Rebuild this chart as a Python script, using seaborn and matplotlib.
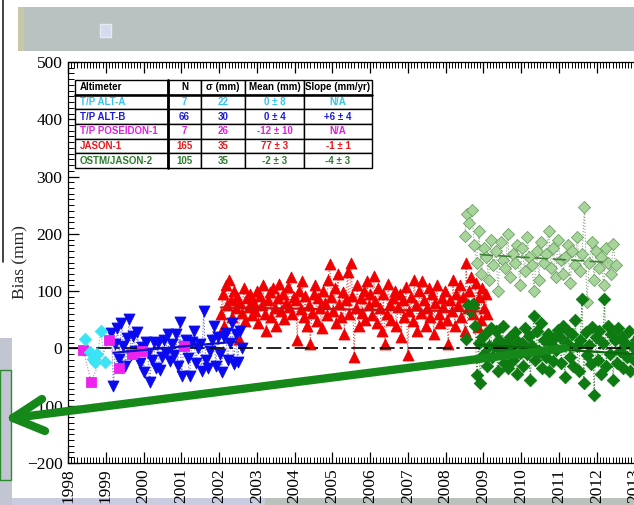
import numpy as np
import pandas as pd
import matplotlib
matplotlib.use("Agg")
import matplotlib.pyplot as plt
import seaborn as sns
from matplotlib.patches import Rectangle
from matplotlib.lines import Line2D
from matplotlib.ticker import MultipleLocator

# ---------------- data ----------------
alta_time = [1998.46, 1998.58, 1998.66, 1998.72, 1998.78, 1998.87, 1998.97]
alta_bias = [17, -6, -18, -24, -10, 30, -24]

pos_time = [1998.41, 1998.61, 1999.09, 1999.34, 1999.69, 1999.95, 2001.08]
pos_bias = [-3, -58, 15, -34, -9, -5, 5]

altb_span = (1999.15, 2002.6)
altb_bias = [27, -66, 8, 35, -18, 45, 4, -30, 18, 51,
             -12, 22, -5, 28, -25, 2, -42, 12, -8, -59,
             -20, 11, -35, 10, -38, -15, 14, -8, 25, -22,
             8, -12, 26, -30, 46, -49, 5, 14, -17, -49,
             12, 30, -25, 0, 8, -40, 65, -20, -35, -5,
             15, 40, -30, 20, -10, -41, 20, 27, -20, 10,
             44, -28, 25, -24, 30, 0]

jason_span = (2002.05, 2009.1)
jason_bias = [60, 95, 40, 110, 75, 119, 85, 55, 100, 70, 90, 17, 80, 62, 105, 48, 88, 72, 95, 58, 82, 66,
              100, 45, 92, 75, 110, 60, 30, 85, 98, 55, 105, 70, 40, 88, 112, 65, 95, 52, 80, 108, 72, 124, 60, 90,
              85, 14, 100, 68, 118, 55, 92, 40, 75, 8, 62, 95, 110, 48, 88, 70, 35, 100, 80, 58, 120, 148, 90,
              65, 105, 45, 130, 78, 55, 98, 25, 85, 133, 60, 149, 92, -15, 70, 110, 40, 88, 62, 100, 50, 118, 75, 95,
              58, 126, 82, 45, 105, 70, 30, 95, 7, 60, 112, 78, 50, 88, 100, 40, 72, 95, 20, 85, 55, 108, -12, 65,
              90, 48, 119, 75, 30, 100, 62, 117, 85, 40, 70, 105, 55, 95, 25, 80, 110, 60, 45, 88, 72, 100, 50, 8,
              85, 65, 120, 40, 95, 75, 110, 55, 90, 30, 149, 70, 100, 125, 60, 80, 115, 37, 90, 50, 105, 70, 95, 60]

ostm_span = (2008.55, 2013.3)
ostm_bias = [17, 75, 66, 70, 78, 40, -47, 10, -61, 20, -10, 25, -30, 5,
             35, -15, 5, 30, -40, 15, -5, 40, -25, 10, -35, 20, 0, -20, 28, -45, 12, -8,
             10, -30, 35, -10, 22, -55, 5, 56, -20, 30, -5, 45, -35, 15, -15, 25, -40, 8, -22, 18, -3, 32,
             20, -25, 40, -50, 10, 30, -15, 25, -30, 50, 5, -40, 15, 87, -60, 28, -12, 6, -28, 38, -82,
             20, -20, 30, -45, 10, 86, -30, 40, -10, 25, -55, 15, -25, 35, -5, 20, -35, 10, -15, 30,
             -40, 5, -20, 15, -8, 22, -30, 12, -18, 4]

ostm_old_span = (2008.5, 2012.5)
ostm_old_bias = [197, 234, 219, 242, 180, 150, 205, 130, 175, 160, 120, 190, 145, 170, 100, 185,
                 155, 140, 200, 125, 165, 150, 180, 110, 175, 135, 195, 160, 145, 101, 170, 120,
                 185, 150, 165, 205, 140, 175, 125, 190, 155, 130, 160, 180, 115, 170, 145, 195,
                 135, 165, 247, 81, 150, 185, 120, 170, 140, 160, 110, 175, 150, 130, 183, 145]

# linear trends: (start, end, reference year, level at reference, slope mm/yr)
altb_trend = (1999.2, 2002.45, 2000.8, 2, 6)
jason_trend = (2002.05, 2009.05, 2005.5, 68, -1)
ostm_trend = (2008.8, 2013.4, 2011.0, -2, -4)
ostm_old_trend = (2008.9, 2012.3, 2010.6, 157, -4)

# summary table
table_cols = ["Altimeter", "N", "\u03c3 (mm)", "Mean (mm)", "Slope (mm/yr)"]
table_names = ["T/P ALT-A", "T/P ALT-B", "T/P POSEIDON-1", "JASON-1", "OSTM/JASON-2"]
table_n = [7, 66, 7, 165, 105]
table_sigma = [22, 30, 26, 35, 35]
table_mean = ["0 \u00b1 8", "0 \u00b1 4", "-12 \u00b1 10", "77 \u00b1 3", "-2 \u00b1 3"]
table_slope = ["N/A", "+6 \u00b1 4", "N/A", "-1 \u00b1 1", "-4 \u00b1 3"]
table_text_colors = ["#35c4ee", "#1c1cd8", "#e020e0", "#e8181c", "#2c7c2c"]

years = list(range(1998, 2014))
bias_ticks = list(range(-200, 501, 100))

# ---------------- figure ----------------
sns.set_theme(style="ticks")
plt.rcParams["font.family"] = ["Liberation Serif", "DejaVu Serif"]

W, H = 634, 505
fig = plt.figure(figsize=(W / 100, H / 100), dpi=100)
fig.patch.set_facecolor("white")


def fx(px):
    return px / W


def fy(py):
    return 1 - py / H


def slide_rect(x0, y0, x1, y1, **kw):
    fig.add_artist(Rectangle((fx(x0), fy(y1)), fx(x1) - fx(x0), fy(y0) - fy(y1),
                             transform=fig.transFigure, **kw))


# slide background around the chart
slide_rect(18, 7, 634, 51, facecolor="#b9c2c1", edgecolor="none", zorder=0)
slide_rect(18, 7, 24, 51, facecolor="#c7c9a6", edgecolor="none", zorder=0)
slide_rect(100, 24, 111, 37, facecolor="#d6daee", edgecolor="#e6e8f4", lw=1, zorder=0)
fig.add_artist(Line2D([fx(3), fx(3)], [fy(0), fy(262)], transform=fig.transFigure,
                      color="#222222", lw=1.2, zorder=0))
slide_rect(0, 338, 12, 505, facecolor="#c2c5d2", edgecolor="none", zorder=0)
slide_rect(0, 370, 11, 480, facecolor="none", edgecolor="#2e8a2e", lw=1.0, zorder=1)
slide_rect(12, 498, 265, 505, facecolor="#c9cce0", edgecolor="none", zorder=0)
slide_rect(265, 498, 634, 505, facecolor="#b9c1bd", edgecolor="none", zorder=0)

ax_w = (2013.4 - 1998) * 37.77
ax = fig.add_axes([fx(68), fy(463), ax_w / W, 401 / H])
ax.set_facecolor("white")


def series_frame(times, values):
    return pd.DataFrame({"year": times, "bias": values})


def even_times(span, values):
    return np.linspace(span[0], span[1], len(values))


def trend_frame(tr):
    t0, t1, tref, level, slope = tr
    t = np.array([t0, t1])
    return pd.DataFrame({"year": t, "bias": level + slope * (t - tref)})


series = [
    # data frame, marker colour, edge colour, marker, size, link colour, zorder
    (series_frame(even_times(ostm_old_span, ostm_old_bias), ostm_old_bias), "#a6d49a", "#6f9f66", "D", 38, "#8aaa80", 2),
    (series_frame(even_times(jason_span, jason_bias), jason_bias), "#f00000", "#f00000", "^", 62, "#e04848", 3),
    (series_frame(even_times(ostm_span, ostm_bias), ostm_bias), "#0d7a12", "#0d7a12", "D", 40, "#3c8a3c", 4),
    (series_frame(even_times(altb_span, altb_bias), altb_bias), "#0a0af0", "#0a0af0", "v", 62, "#6a6ad8", 3),
    (series_frame(pos_time, pos_bias), "#ee22ee", "#ee22ee", "s", 48, "#d070d0", 5),
    (series_frame(alta_time, alta_bias), "#3ae4f4", "#3ae4f4", "D", 40, "#70c8e0", 5),
]

for df, fc, ec, mk, sz, lc, z in series:
    sns.lineplot(data=df, x="year", y="bias", ax=ax, sort=False, estimator=None,
                 color=lc, lw=0.8, linestyle=":", zorder=z)
    sns.scatterplot(data=df, x="year", y="bias", ax=ax, marker=mk, s=sz,
                    color=fc, edgecolor=ec, linewidth=0.6, zorder=z + 0.5)

sns.lineplot(data=trend_frame(altb_trend), x="year", y="bias", ax=ax, color="#1010c0", lw=1.6, zorder=6)
sns.lineplot(data=trend_frame(jason_trend), x="year", y="bias", ax=ax, color="#d01010", lw=1.6, zorder=6)
sns.lineplot(data=trend_frame(ostm_trend), x="year", y="bias", ax=ax, color="#0b6a0b", lw=1.6, zorder=6)
sns.lineplot(data=trend_frame(ostm_old_trend), x="year", y="bias", ax=ax, color="#3f7f34",
             lw=1.2, linestyle=(0, (8, 3)), zorder=6)

ax.axhline(0, color="black", lw=1.2, linestyle=(0, (9, 3, 2, 3)), zorder=5)

ax.set_xlim(1998, 2013.4)
ax.set_ylim(-200, 500)
ax.set_xticks(years)
ax.set_xticklabels([str(y) for y in years], rotation=90)
ax.set_yticks(bias_ticks)
ax.xaxis.set_minor_locator(MultipleLocator(1 / 12))
ax.yaxis.set_minor_locator(MultipleLocator(10))
ax.tick_params(which="both", direction="in", top=True, right=True, colors="black",
               labelsize=12.5, pad=4)
ax.tick_params(which="major", length=8, width=0.9)
ax.tick_params(which="minor", length=4, width=0.7)
ax.set_xlabel("")
ax.set_ylabel("Bias (mm)", fontsize=12.5)
ax.yaxis.set_label_coords((28 - 68) / ax_w, 0.5)
for s in ax.spines.values():
    s.set_color("black")
    s.set_linewidth(0.9)

# summary table
cell_text = [[table_names[i], str(table_n[i]), str(table_sigma[i]), table_mean[i], table_slope[i]]
             for i in range(len(table_names))]
col_px = [93, 33, 44, 59, 68]
tab_w = sum(col_px)
tx0 = (75 - 68) / ax_w
ty1 = 1 - (80 - 62) / 401
ty0 = 1 - (168 - 62) / 401
tab = ax.table(cellText=cell_text, colLabels=table_cols, cellLoc="center",
               colWidths=[c / tab_w for c in col_px],
               bbox=[tx0, ty0, tab_w / ax_w, ty1 - ty0], zorder=8)
tab.auto_set_font_size(False)
tab.set_fontsize(7)
for (r, c), cell in tab.get_celld().items():
    cell.set_facecolor("white")
    cell.set_edgecolor("black")
    cell.set_linewidth(1.0)
    color = "black" if r == 0 else table_text_colors[r - 1]
    txt = cell.get_text()
    txt.set_color(color)
    txt.set_fontweight("bold")
    txt.set_family(["Liberation Sans", "DejaVu Sans"])
    if c == 0:
        cell.PAD = 0.05
        txt.set_horizontalalignment("left")

# heavier rules inside the table
x_split = tx0 + col_px[0] / ax_w
ax.plot([x_split, x_split], [ty0, ty1], transform=ax.transAxes, color="black", lw=2.0, zorder=9)
row_h = (ty1 - ty0) / 6
ax.plot([tx0, tx0 + tab_w / ax_w], [ty1 - row_h] * 2, transform=ax.transAxes,
        color="black", lw=1.8, zorder=9)

# pointer arrow across the chart
green = "#16881a"
arrow_pts = [(565, 348), (13, 418)]
head_pts = [(42, 399), (45, 431)]
fig.add_artist(Line2D([fx(p[0]) for p in arrow_pts], [fy(p[1]) for p in arrow_pts],
                      transform=fig.transFigure, color=green, lw=6, solid_capstyle="round", zorder=20))
for hp in head_pts:
    fig.add_artist(Line2D([fx(13), fx(hp[0])], [fy(418), fy(hp[1])], transform=fig.transFigure,
                          color=green, lw=6, solid_capstyle="round", zorder=20))

fig.savefig("out.png", dpi=100)
